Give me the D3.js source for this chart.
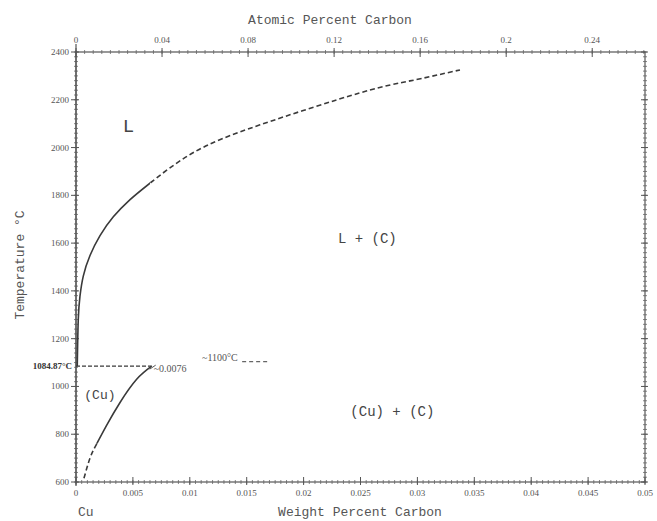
<!DOCTYPE html>
<html>
<head>
<meta charset="utf-8">
<script src="https://cdn.jsdelivr.net/npm/d3@7"></script>
<style>
  body { margin: 0; background: #fff; }
  svg text { fill: #555; }
</style>
</head>
<body>
<div id="chart"></div>
<script>
// Cu-C phase diagram (weight % / atomic % carbon vs temperature)

// axis ticks
const tempTicks = [600, 800, 1000, 1200, 1400, 1600, 1800, 2000, 2200, 2400];
const wtTicks = [0, 0.005, 0.01, 0.015, 0.02, 0.025, 0.03, 0.035, 0.04, 0.045, 0.05];
const wtLabels = ["0", "0.005", "0.01", "0.015", "0.02", "0.025", "0.03", "0.035", "0.04", "0.045", "0.05"];
const atTicks = [0, 0.04, 0.08, 0.12, 0.16, 0.2, 0.24];
const atLabels = ["0", "0.04", "0.08", "0.12", "0.16", "0.2", "0.24"];

// atomic masses for the top axis conversion
const massC = 12.011, massCu = 63.546;

// liquidus [wt% C, T]; solid up to liqSplit, dashed beyond
const liquidus = [
  [0.00011, 1084.87], [0.0002, 1281], [0.00035, 1378], [0.00064, 1462],
  [0.00123, 1548], [0.00211, 1631], [0.00328, 1710], [0.00475, 1782], [0.0065, 1851],
  [0.01028, 1978], [0.01617, 2095], [0.02496, 2229], [0.02935, 2279], [0.03374, 2325]
];
const liqSplit = 0.0065;

// solubility of C in (Cu); solid above solSplit, dashed below
const solvus = [
  [0.00665, 1085], [0.00533, 1030], [0.00387, 933], [0.0027, 838], [0.00182, 760],
  [0.00123, 700], [0.00064, 605]
];
const solSplit = 760;

const meltT = 1084.87;
const meltEndWt = 0.00665;
const eutT = 1100;
const eutLine = [0.0146, 0.0168];

const width = 657, height = 521;
const x0 = 76, x1 = 645, y0 = 482, y1 = 52;

const svg = d3.select("#chart").append("svg")
  .attr("width", width)
  .attr("height", height);

const x = d3.scaleLinear().domain([0, 0.05]).range([x0, x1]);
const xAt = d3.scaleLinear().domain([0, 0.05 * massCu / massC]).range([x0, x1]);
const y = d3.scaleLinear().domain([600, 2400]).range([y0, y1]);

const ink = "#3a3a3a";
const tickFont = "Liberation Serif, serif";
const monoFont = "Liberation Mono, monospace";

// clip regions to split curves into solid / dashed parts
const defs = svg.append("defs");
defs.append("clipPath").attr("id", "liqSolid").append("rect")
  .attr("x", 0).attr("y", 0).attr("width", x(liqSplit)).attr("height", height);
defs.append("clipPath").attr("id", "liqDash").append("rect")
  .attr("x", x(liqSplit)).attr("y", 0).attr("width", width).attr("height", height);
defs.append("clipPath").attr("id", "solSolid").append("rect")
  .attr("x", 0).attr("y", 0).attr("width", width).attr("height", y(solSplit));
defs.append("clipPath").attr("id", "solDash").append("rect")
  .attr("x", 0).attr("y", y(solSplit)).attr("width", width).attr("height", height);

// frame
svg.append("rect")
  .attr("x", x0).attr("y", y1)
  .attr("width", x1 - x0).attr("height", y0 - y1)
  .attr("fill", "none")
  .attr("stroke", "#555")
  .attr("stroke-width", 1.2);

// minor ticks
const minorT = d3.range(600, 2401, 20);
const minorWt = d3.range(0, 0.05001, 0.0005);
const minorAt = d3.range(0, 0.2645, 0.004);

const ticks = svg.append("g").attr("stroke", "#666").attr("stroke-width", 0.8);

ticks.selectAll(".ml").data(minorT).join("line")
  .attr("x1", x0 - 2).attr("x2", x0 + 2)
  .attr("y1", d => y(d)).attr("y2", d => y(d));
ticks.selectAll(".mr").data(minorT).join("line")
  .attr("class", "mr")
  .attr("x1", x1 - 2).attr("x2", x1 + 2)
  .attr("y1", d => y(d)).attr("y2", d => y(d));
ticks.selectAll(".mb").data(minorWt).join("line")
  .attr("class", "mb")
  .attr("x1", d => x(d)).attr("x2", d => x(d))
  .attr("y1", y0 - 2).attr("y2", y0 + 2);
ticks.selectAll(".mt").data(minorAt).join("line")
  .attr("class", "mt")
  .attr("x1", d => xAt(d)).attr("x2", d => xAt(d))
  .attr("y1", y1 - 2).attr("y2", y1 + 2);

// major ticks
const major = svg.append("g").attr("stroke", "#555").attr("stroke-width", 1);
major.selectAll(".Ml").data(tempTicks).join("line")
  .attr("class", "Ml")
  .attr("x1", x0 - 5).attr("x2", x0 + 3)
  .attr("y1", d => y(d)).attr("y2", d => y(d));
major.selectAll(".Mr").data(tempTicks).join("line")
  .attr("class", "Mr")
  .attr("x1", x1 - 4).attr("x2", x1 + 3)
  .attr("y1", d => y(d)).attr("y2", d => y(d));
major.selectAll(".Mb").data(wtTicks).join("line")
  .attr("class", "Mb")
  .attr("x1", d => x(d)).attr("x2", d => x(d))
  .attr("y1", y0 - 5).attr("y2", y0 + 3);
major.selectAll(".Mt").data(atTicks).join("line")
  .attr("class", "Mt")
  .attr("x1", d => xAt(d)).attr("x2", d => xAt(d))
  .attr("y1", y1 - 4).attr("y2", y1 + 5);

// left axis extends a bit above the frame
svg.append("line")
  .attr("x1", x0).attr("x2", x0)
  .attr("y1", y1 - 8).attr("y2", y0 + 4)
  .attr("stroke", "#555").attr("stroke-width", 1.2);

// tick labels
svg.append("g").selectAll("text").data(tempTicks).join("text")
  .attr("x", x0 - 7).attr("y", d => y(d) + 3)
  .attr("text-anchor", "end")
  .attr("font-family", tickFont).attr("font-size", 9)
  .text(d => d);

svg.append("g").selectAll("text").data(wtTicks).join("text")
  .attr("x", d => x(d)).attr("y", y0 + 14)
  .attr("text-anchor", "middle")
  .attr("font-family", tickFont).attr("font-size", 9)
  .text((d, i) => wtLabels[i]);

svg.append("g").selectAll("text").data(atTicks).join("text")
  .attr("x", d => xAt(d)).attr("y", y1 - 9)
  .attr("text-anchor", "middle")
  .attr("font-family", tickFont).attr("font-size", 9)
  .text((d, i) => atLabels[i]);

// axis titles
svg.append("text")
  .attr("x", 330).attr("y", 24)
  .attr("text-anchor", "middle")
  .attr("font-family", monoFont).attr("font-size", 13)
  .text("Atomic Percent Carbon");

svg.append("text")
  .attr("x", 360).attr("y", 516)
  .attr("text-anchor", "middle")
  .attr("font-family", monoFont).attr("font-size", 13)
  .text("Weight Percent Carbon");

svg.append("text")
  .attr("transform", "translate(24,265) rotate(-90)")
  .attr("text-anchor", "middle")
  .attr("font-family", monoFont).attr("font-size", 13)
  .text("Temperature °C");

svg.append("text")
  .attr("x", 78).attr("y", 516)
  .attr("font-family", monoFont).attr("font-size", 13)
  .text("Cu");

// phase boundaries
const line = d3.line()
  .x(d => x(d[0])).y(d => y(d[1]))
  .curve(d3.curveNatural);

function boundary(data, clipSolid, clipDash) {
  svg.append("path").datum(data)
    .attr("d", line)
    .attr("clip-path", `url(#${clipSolid})`)
    .attr("fill", "none").attr("stroke", ink).attr("stroke-width", 1.6);
  svg.append("path").datum(data)
    .attr("d", line)
    .attr("clip-path", `url(#${clipDash})`)
    .attr("fill", "none").attr("stroke", ink).attr("stroke-width", 1.6)
    .attr("stroke-dasharray", "5,3");
}
boundary(liquidus, "liqSolid", "liqDash");
boundary(solvus, "solSolid", "solDash");

// melting point / peritectic lines
svg.append("line")
  .attr("x1", x(0)).attr("x2", x(meltEndWt))
  .attr("y1", y(meltT)).attr("y2", y(meltT))
  .attr("stroke", ink).attr("stroke-width", 1.4)
  .attr("stroke-dasharray", "4,2");

svg.append("line")
  .attr("x1", x(eutLine[0])).attr("x2", x(eutLine[1]))
  .attr("y1", y(eutT) - 1).attr("y2", y(eutT) - 1)
  .attr("stroke", "#666").attr("stroke-width", 1.2)
  .attr("stroke-dasharray", "4,3");

// small leader to ~0.0076 label
svg.append("line")
  .attr("x1", x(meltEndWt) - 2).attr("y1", y(meltT) + 3)
  .attr("x2", x(meltEndWt) + 4).attr("y2", y(meltT) - 1)
  .attr("stroke", "#555").attr("stroke-width", 1);

svg.append("text")
  .attr("x", 72).attr("y", y(meltT) + 3)
  .attr("text-anchor", "end")
  .attr("font-family", tickFont).attr("font-size", 9)
  .attr("font-weight", "bold")
  .style("fill", "#333")
  .text("1084.87°C");

svg.append("text")
  .attr("x", x(meltEndWt) + 2).attr("y", y(meltT) + 6)
  .attr("font-family", tickFont).attr("font-size", 10)
  .text("~0.0076");

svg.append("text")
  .attr("x", 202).attr("y", y(eutT) - 2)
  .attr("font-family", tickFont).attr("font-size", 10)
  .text("~1100°C");

// phase region labels
const regions = [
  { t: "L", wt: 0.0046, T: 2065, size: 19 },
  { t: "L + (C)", wt: 0.0256, T: 1600, size: 14 },
  { t: "(Cu)", wt: 0.0021, T: 948, size: 13 },
  { t: "(Cu) + (C)", wt: 0.0278, T: 876, size: 14 }
];
svg.append("g").selectAll("text").data(regions).join("text")
  .attr("x", d => x(d.wt)).attr("y", d => y(d.T))
  .attr("text-anchor", "middle")
  .attr("font-family", monoFont)
  .attr("font-size", d => d.size)
  .style("fill", "#444")
  .text(d => d.t);
</script>
</body>
</html>
